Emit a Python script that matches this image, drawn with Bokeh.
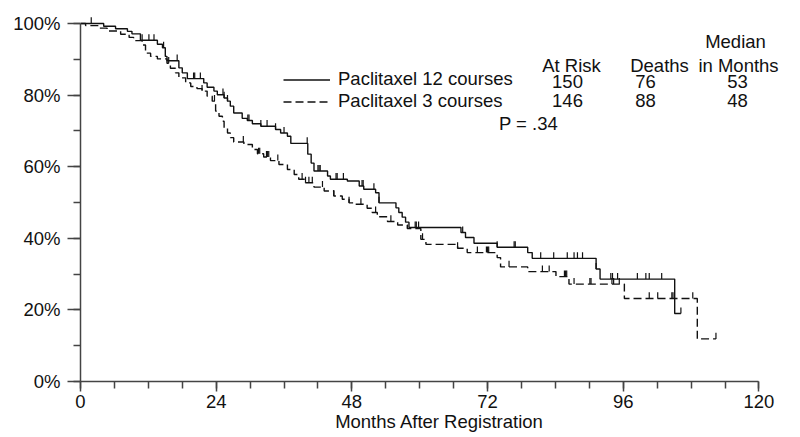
import numpy as np
from bokeh.plotting import figure
from bokeh.models import (Range1d, Label, Legend, LegendItem,
                          PrintfTickFormatter, FixedTicker)
from bokeh.embed import file_html
from bokeh.resources import INLINE

# ---------------- data ----------------
group_names = ["Paclitaxel 12 courses", "Paclitaxel 3 courses"]
at_risk = [150, 146]
deaths = [76, 88]
median_months = [53, 48]
p_value = ".34"

# Paclitaxel 12 courses: event times (months) and survival (%) after each step
arm12_time = [0, 4.1, 6.2, 8.3, 9.1, 10.6, 13.6, 14.5, 15.0, 15.3, 17.4, 18.0,
              18.9, 21.8, 22.4, 23.6, 24.2, 25.4, 26.0, 26.5, 27.1, 28.6, 29.5,
              30.4, 31.9, 34.5, 35.4, 36.6, 37.2, 40.2, 40.8, 41.3, 43.7, 44.2,
              47.2, 49.3, 50.1, 52.2, 52.8, 55.8, 56.3, 56.9, 57.5, 58.1, 67.3,
              68.1, 69.6, 73.7, 79.1, 79.9, 91.2, 91.9, 105.1]
arm12_surv = [100, 99.2, 98.5, 97.8, 97.1, 95.3, 94.2, 93.2, 90.8, 89.6, 87.6, 86.2,
              84.6, 83.4, 82.2, 81.1, 80.1, 79.2, 78.3, 76.9, 75.0, 73.5, 72.9,
              72.0, 71.3, 70.4, 69.4, 68.5, 66.5, 63.5, 61.0, 58.8, 57.4, 56.5,
              56.0, 54.6, 53.7, 52.7, 49.9, 48.5, 47.2, 45.9, 44.5, 43.0, 41.6,
              40.2, 38.6, 37.5, 36.0, 34.4, 31.4, 28.6, 19.0]
arm12_last = 106.2
arm12_censor = [1.9, 10.9, 12.1, 13.0, 14.7, 17.1, 20.0, 20.2, 21.2, 25.2, 25.4,
                26.0, 29.6, 29.8, 31.9, 33.0, 34.5, 36.0, 40.1, 42.0, 42.2, 42.4,
                45.2, 45.4, 46.5, 49.8, 50.0, 51.9, 52.8, 59.2, 59.4, 59.8, 67.6,
                73.7, 76.7, 76.9, 81.4, 83.7, 86.1, 87.3, 87.9, 88.8, 91.2, 93.8,
                94.1, 95.0, 98.5, 100.0, 100.6, 102.8, 106.2]

# Paclitaxel 3 courses
arm3_time = [0, 0.9, 3.2, 4.7, 7.1, 8.6, 9.4, 10.9, 11.5, 12.4, 13.6, 15.3, 15.9,
             16.8, 17.4, 18.6, 19.5, 20.6, 21.5, 22.4, 23.3, 23.9, 24.5, 25.1,
             25.4, 26.0, 26.5, 27.1, 28.9, 30.4, 31.3, 32.4, 33.6, 35.1, 36.6,
             37.8, 38.6, 39.8, 41.3, 43.1, 44.8, 46.3, 47.5, 48.4, 50.7, 51.6,
             52.5, 54.3, 56.1, 57.8, 60.2, 61.1, 66.7, 68.4, 73.7, 74.3, 79.1,
             84.1, 86.4, 96.2, 109.1]
arm3_surv = [100, 99.4, 98.7, 97.9, 97.0, 96.1, 95.2, 94.0, 91.7, 90.8, 90.1, 88.9,
             87.5, 86.2, 84.8, 83.4, 82.4, 81.8, 81.1, 79.7, 78.3, 75.5, 74.1,
             72.7, 70.8, 69.4, 68.1, 66.9, 66.2, 64.8, 63.6, 62.7, 61.7, 60.6,
             59.2, 57.8, 56.5, 55.5, 54.3, 53.2, 51.8, 50.9, 49.9, 49.5, 48.4,
             47.2, 46.0, 44.7, 43.7, 42.7, 39.7, 38.3, 37.2, 36.0, 34.6, 32.0,
             30.7, 29.3, 27.2, 23.2, 11.9]
arm3_last = 112.4
arm3_censor = [15.6, 21.5, 23.7, 28.8, 31.5, 31.7, 32.9, 33.1, 33.3, 34.9, 39.2,
               39.8, 40.4, 41.0, 42.8, 44.8, 47.5, 49.6, 52.2, 54.9, 60.5, 66.7,
               70.2, 71.8, 72.0, 72.2, 75.8, 81.7, 82.9, 85.6, 85.8, 86.0, 87.3,
               90.1, 90.3, 94.0, 94.3, 95.3, 100.6, 102.1, 104.6, 104.8, 108.3,
               112.4]

x_major = [0, 24, 48, 72, 96, 120]
y_major = [0, 20, 40, 60, 80, 100]

# ---------------- styling ----------------
FONT = "Liberation Sans"
FS = "18.5px"
INK = "#111111"
AXIS = "#444444"
TICK_H = 1.7  # censor mark height in % units

p = figure(width=798, height=437, output_backend="svg", toolbar_location=None,
           x_range=Range1d(0, 127), y_range=Range1d(0, 102.5),
           min_border_left=80, min_border_right=0, min_border_top=14,
           min_border_bottom=56)
p.outline_line_color = None
p.xgrid.visible = False
p.ygrid.visible = False
p.background_fill_color = "white"
p.border_fill_color = "white"


def step_xy(times, surv, last):
    return list(times) + [last], list(surv) + [surv[-1]]


def censor_levels(times, surv, cens):
    t = np.asarray(times)
    s = np.asarray(surv)
    idx = np.searchsorted(t, np.asarray(cens), side="right") - 1
    return s[idx]


x12, y12 = step_xy(arm12_time, arm12_surv, arm12_last)
x3, y3 = step_xy(arm3_time, arm3_surv, arm3_last)

r12 = p.step(x12, y12, mode="after", line_color=INK, line_width=1.4)
r3 = p.step(x3, y3, mode="after", line_color=INK, line_width=1.4,
            line_dash="8 4")

c12 = censor_levels(arm12_time, arm12_surv, arm12_censor)
c3 = censor_levels(arm3_time, arm3_surv, arm3_censor)
p.segment(x0=arm12_censor, y0=c12, x1=arm12_censor, y1=c12 + TICK_H,
          line_color=INK, line_width=1.2)
p.segment(x0=arm3_censor, y0=c3, x1=arm3_censor, y1=c3 + TICK_H,
          line_color=INK, line_width=1.2)

# axes
xa = p.xaxis[0]
xa.ticker = FixedTicker(ticks=x_major, minor_ticks=list(range(0, 121, 6)))
xa.bounds = (0, 120)
xa.axis_label = "Months After Registration"
ya = p.yaxis[0]
ya.ticker = FixedTicker(ticks=y_major, minor_ticks=list(range(0, 101, 10)))
ya.bounds = (0, 100)
ya.formatter = PrintfTickFormatter(format="%d%%")

for ax in (xa, ya):
    ax.axis_line_color = AXIS
    ax.axis_line_width = 1.5
    ax.major_tick_line_color = AXIS
    ax.minor_tick_line_color = AXIS
    ax.major_tick_line_width = 1.5
    ax.minor_tick_line_width = 1.5
    ax.major_tick_in = 0
    ax.minor_tick_in = 0
    ax.minor_tick_out = 7
    ax.major_label_text_font = FONT
    ax.major_label_text_font_size = FS
    ax.major_label_text_color = INK
    ax.axis_label_text_font = FONT
    ax.axis_label_text_font_size = FS
    ax.axis_label_text_font_style = "normal"
    ax.axis_label_text_color = INK
xa.major_tick_out = 10
xa.major_label_standoff = 3
xa.axis_label_standoff = 0
ya.major_tick_out = 13
ya.major_label_standoff = 7

# legend (line samples + names)
legend = Legend(items=[LegendItem(label=group_names[0], renderers=[r12]),
                       LegendItem(label=group_names[1], renderers=[r3])],
                location=(203, 269), glyph_width=47, glyph_height=19,
                label_height=19, label_standoff=8, spacing=-4, padding=0,
                margin=0, border_line_alpha=0, background_fill_alpha=0,
                label_text_font=FONT, label_text_font_size=FS,
                label_text_color=INK)
p.add_layout(legend)


def add_label(x, y, text):
    p.add_layout(Label(x=x, y=y, x_units="screen", y_units="screen",
                       text=text, text_align="center",
                       text_baseline="alphabetic", text_font=FONT,
                       text_font_size=FS, text_color=INK))


# stats table (screen positions relative to the plot frame)
add_label(655, 340, "Median")
add_label(491, 316, "At Risk")
add_label(579, 316, "Deaths")
add_label(658, 316, "in Months")
for row_y, i in ((300, 0), (281, 1)):
    add_label(487, row_y, str(at_risk[i]))
    add_label(565, row_y, str(deaths[i]))
    add_label(657, row_y, str(median_months[i]))
add_label(448, 258, "P = " + p_value)

open("out.html", "w").write(file_html(p, INLINE))
